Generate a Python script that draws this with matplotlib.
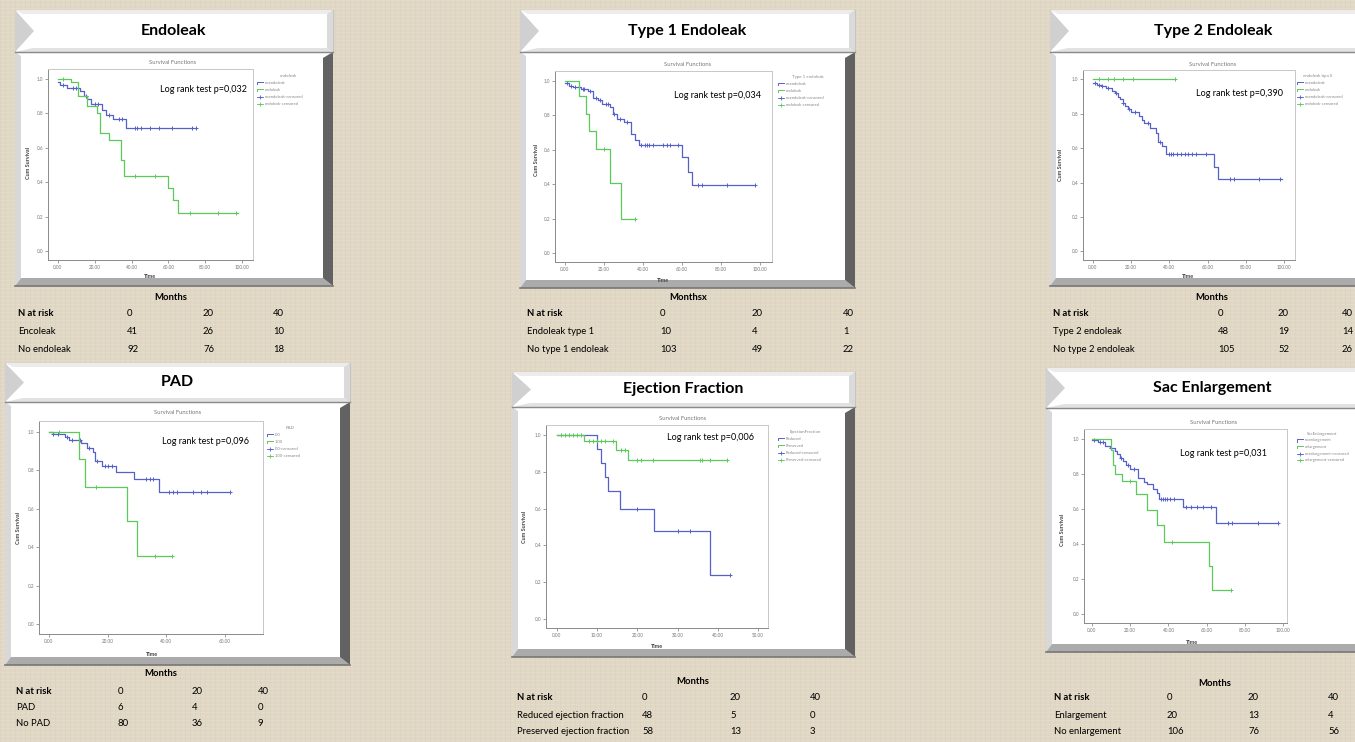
import numpy as np
import matplotlib
matplotlib.use('Agg')
import matplotlib.pyplot as plt
from matplotlib.patches import Rectangle, Polygon

plt.rcParams['font.family'] = ['Lato', 'DejaVu Sans']

W, H = 1355, 742
BLUE = '#5560c8'
GREEN = '#5cc95c'

# ---------------- DATA ----------------
# Endoleak
endo_no_t = [0, 1, 5, 12, 14, 16, 18, 24, 26, 30, 37, 75]
endo_no_s = [0.979, 0.96, 0.946, 0.927, 0.898, 0.879, 0.85, 0.82, 0.79, 0.763, 0.715, 0.715]
endo_no_c = [3, 8, 10, 15, 20, 22, 28, 33, 35, 42, 43, 45, 50, 55, 62, 73, 75]
endo_yes_t = [0, 7, 11, 16, 21, 23, 28, 34, 36, 60, 62.5, 65, 98]
endo_yes_s = [1.0, 0.979, 0.898, 0.84, 0.80, 0.685, 0.647, 0.53, 0.435, 0.368, 0.30, 0.223, 0.223]
endo_yes_c = [3, 42, 53, 72, 87, 97]
endo_rows = ['Encoleak', 'No endoleak']
endo_risk = [['41', '26', '10'], ['92', '76', '18']]

# Type 1 endoleak
t1_no_t = [0, 2, 4, 8, 12, 14.5, 17, 19, 23, 24.5, 26.5, 30, 34, 36, 38, 60, 63, 65, 97.5]
t1_no_s = [0.985, 0.971, 0.961, 0.95, 0.94, 0.90, 0.885, 0.865, 0.846, 0.807, 0.778, 0.76,
           0.69, 0.653, 0.624, 0.557, 0.47, 0.397, 0.397]
t1_no_c = [1, 3, 5, 7, 9, 10, 13, 16, 18, 21, 22, 25, 28, 32, 39, 41, 42, 43, 45, 50, 52, 54,
           58, 68, 70, 83, 97.5]
t1_yes_t = [0, 7.4, 11, 12.5, 16, 23, 28.5, 36]
t1_yes_s = [1.0, 0.908, 0.807, 0.705, 0.605, 0.406, 0.20, 0.20]
t1_yes_c = [20, 36]
t1_rows = ['Endoleak type 1', 'No type 1 endoleak']
t1_risk = [['10', '4', '1'], ['103', '49', '22']]

# Type 2 endoleak
t2_no_t = [0, 2, 4.5, 7, 10, 11.5, 13, 14, 15.5, 17, 18.5, 20, 24, 25.5, 27, 30, 33, 34, 36,
           38, 63.5, 65.6, 99]
t2_no_s = [0.98, 0.97, 0.96, 0.95, 0.935, 0.92, 0.90, 0.885, 0.865, 0.846, 0.83, 0.81, 0.79,
           0.765, 0.745, 0.72, 0.69, 0.638, 0.613, 0.567, 0.493, 0.42, 0.42]
t2_no_c = [1, 3, 5, 8, 12, 16, 19, 22, 29, 35, 40, 41, 42, 44, 46, 48, 50, 52, 54, 59, 72, 74,
           87, 98]
t2_yes_t = [0, 43]
t2_yes_s = [1.0, 1.0]
t2_yes_c = [3, 8, 11, 16, 21, 43]
t2_rows = ['Type 2 endoleak', 'No type 2 endoleak']
t2_risk = [['48', '19', '14'], ['105', '52', '26']]

# PAD
pad_no_t = [0, 1.5, 5.5, 6.7, 11, 13, 15, 15.7, 18, 23, 29, 37.5, 61.7]
pad_no_s = [1.0, 0.988, 0.97, 0.957, 0.94, 0.915, 0.893, 0.85, 0.824, 0.79, 0.755, 0.689, 0.689]
pad_no_c = [1.5, 3, 6, 8, 10.5, 13.5, 16.3, 19, 20, 21.5, 33, 34.5, 35.5, 41, 42.3, 43.5, 49,
            52, 54, 61.7]
pad_yes_t = [0, 10.2, 12.3, 26.5, 30, 42]
pad_yes_s = [1.0, 0.857, 0.715, 0.537, 0.357, 0.357]
pad_yes_c = [3.5, 16, 36, 42]
pad_rows = ['PAD', 'No PAD']
pad_risk = [['6', '4', '0'], ['80', '36', '9']]

# Ejection fraction
ef_red_t = [0, 10, 11, 12, 12.8, 15.8, 24.1, 38, 43]
ef_red_s = [1.0, 0.927, 0.849, 0.772, 0.694, 0.596, 0.479, 0.239, 0.239]
ef_red_c = [20, 30, 33, 43]
ef_pre_t = [0, 6.8, 14.8, 17.7, 42.2]
ef_pre_s = [1.0, 0.967, 0.918, 0.863, 0.863]
ef_pre_c = [1, 2, 3, 4, 5, 6, 8, 9, 10, 11, 12, 14, 16, 17, 20, 21, 24, 35.5, 36, 38, 42.2]
ef_rows = ['Reduced ejection fraction', 'Preserved ejection fraction']
ef_risk = [['48', '5', '0'], ['58', '13', '3']]

# Sac enlargement
sac_no_t = [0, 3, 7, 9.4, 12, 13, 14.7, 16.4, 18, 20, 24, 27, 29, 32, 34, 35, 47.8, 65, 97.5]
sac_no_s = [0.99, 0.98, 0.96, 0.945, 0.93, 0.91, 0.89, 0.87, 0.85, 0.83, 0.777, 0.755, 0.74,
            0.715, 0.69, 0.655, 0.61, 0.52, 0.52]
sac_no_c = [1, 4, 6, 10, 15, 19, 22, 36, 37, 38, 39, 41, 43, 49, 52, 55, 58, 62, 71, 73, 87, 97.5]
sac_yes_t = [0, 9.8, 11, 12, 15.5, 23, 28.6, 34, 37.7, 61, 63, 72.6]
sac_yes_s = [1.0, 0.936, 0.852, 0.80, 0.758, 0.684, 0.594, 0.511, 0.41, 0.275, 0.14, 0.14]
sac_yes_c = [20, 42, 72.6]
sac_rows = ['Enlargement', 'No enlargement']
sac_risk = [['20', '13', '4'], ['106', '76', '56']]

months = ['0', '20', '40']
x_ticks_100 = [0, 20, 40, 60, 80, 100]
x_ticks_60 = [0, 20, 40, 60]
x_ticks_50 = [0, 10, 20, 30, 40, 50]
y_ticks = [0.0, 0.2, 0.4, 0.6, 0.8, 1.0]

# ---------------- FIGURE ----------------
fig = plt.figure(figsize=(W / 100, H / 100), dpi=100)
fig.patch.set_facecolor('#e0d7c4')
bg = fig.add_axes([0, 0, 1, 1])
bg.set_xlim(0, W)
bg.set_ylim(H, 0)
bg.axis('off')

# faint linen texture (regular)
for yy in range(0, H, 4):
    bg.axhline(yy, color='#ece5d6', lw=0.6, alpha=0.45, zorder=0)
for xx in range(0, W, 5):
    bg.axvline(xx, color='#d2c8b3', lw=0.5, alpha=0.3, zorder=0)


def ftext(x, y, s, **kw):
    """Text on top of everything, positioned in reference pixel coordinates."""
    kw.setdefault('zorder', 10)
    return fig.text(x, y, s, transform=bg.transData, **kw)


def draw_box(hdr, body, title, tx=None):
    l, t, r, b = body
    bg.add_patch(Rectangle((l, t), r - l, b - t, facecolor='white', edgecolor='none', zorder=2))
    bg.add_patch(Polygon([(l, t), (l + 6, t + 4), (l + 6, b - 8), (l, b)], closed=True,
                         facecolor='#d8d8d8', edgecolor='none', zorder=3))
    bg.add_patch(Polygon([(l, b), (r, b), (r - 10, b - 8), (l + 6, b - 8)], closed=True,
                         facecolor='#ababab', edgecolor='none', zorder=3))
    bg.add_patch(Polygon([(r, t), (r, b), (r - 10, b - 8), (r - 10, t + 6)], closed=True,
                         facecolor='#626262', edgecolor='none', zorder=3))
    bg.plot([l, r], [b, b], color='#777777', lw=1.2, zorder=3)
    hl, ht, hr, hb = hdr
    bg.add_patch(Rectangle((hl, ht), hr - hl, hb - ht, facecolor='white', edgecolor='#c4c4c4',
                           lw=0.8, zorder=4))
    bg.add_patch(Polygon([(hl, ht), (hr, ht), (hr - 6, ht + 4), (hl + 8, ht + 4)], closed=True,
                         facecolor='#ececec', edgecolor='none', zorder=4))
    bg.add_patch(Polygon([(hl, hb), (hr, hb), (hr - 6, hb - 4), (hl + 18, hb - 4)], closed=True,
                         facecolor='#e2e2e2', edgecolor='none', zorder=4))
    bg.add_patch(Polygon([(hr, ht), (hr, hb), (hr - 6, hb - 4), (hr - 6, ht + 4)], closed=True,
                         facecolor='#dadada', edgecolor='none', zorder=4))
    bg.add_patch(Polygon([(hl, ht), (hl + 19, (ht + hb) / 2), (hl, hb)], closed=True,
                         facecolor='#d0d0d0', edgecolor='none', zorder=4))
    bg.plot([hl, hr], [hb, hb], color='#8a8a8a', lw=1.0, zorder=4)
    cx = (hl + hr) / 2 if tx is None else tx
    bg.text(cx, (ht + hb) / 2, title, ha='center', va='center', fontsize=11.5,
            fontweight='bold', color='black', zorder=5)


def km_axes(box, xlim, xticks, curves):
    l, t, r, b = box
    ax = fig.add_axes([l / W, 1 - b / H, (r - l) / W, (b - t) / H])
    ax.set_facecolor('white')
    for tt, ss, cc, col in curves:
        ax.step(tt, ss, where='post', color=col, lw=0.9)
        idx = np.searchsorted(tt, cc, side='right') - 1
        cy = np.asarray(ss)[idx]
        ax.plot(cc, cy, '+', color=col, ms=3.2, mew=0.7, ls='none')
    ax.set_xlim(*xlim)
    ax.set_ylim(-0.05, 1.055)
    ax.set_xticks(xticks)
    ax.set_xticklabels([f'{v:.2f}' for v in xticks])
    ax.set_yticks(y_ticks)
    ax.set_yticklabels([f'{v:.1f}' for v in y_ticks])
    ax.tick_params(labelsize=3.3, labelcolor='#777777', length=2, width=0.5,
                   color='#777777', pad=1.5)
    for s in ['left', 'bottom']:
        ax.spines[s].set_color('#8a8a8a')
        ax.spines[s].set_linewidth(0.7)
    for s in ['top', 'right']:
        ax.spines[s].set_color('#c8c8c8')
        ax.spines[s].set_linewidth(0.7)
    return ax


def labels(sf, tm, cs):
    ftext(sf[0], sf[1], 'Survival Functions', ha='center', va='center', fontsize=4.2,
          color='#777777')
    ftext(tm[0], tm[1], 'Time', ha='center', va='center', fontsize=4, fontweight='bold',
          color='#444444')
    ftext(cs[0], cs[1], 'Cum Survival', ha='center', va='center', fontsize=4,
          fontweight='bold', color='#444444', rotation=90)


def legend(gx, ty, tcx, dy, title, names):
    ftext(tcx, ty, title, ha='center', va='center', fontsize=3.2, color='#888888')
    cols = [BLUE, GREEN, BLUE, GREEN]
    for i, (nm, col) in enumerate(zip(names, cols)):
        yy = ty + dy * (i + 1)
        if i < 2:
            bg.plot([gx, gx, gx + 6], [yy + 1.2, yy - 1.2, yy - 1.2], color=col, lw=0.7, zorder=6)
        else:
            bg.plot([gx, gx + 6], [yy, yy], color=col, lw=0.6, zorder=6)
            bg.plot([gx + 3], [yy], '+', color=col, ms=2.4, mew=0.6, zorder=6)
        ftext(gx + 8, yy, nm, ha='left', va='center', fontsize=3.0, color='#888888')


def logrank(x, y, p):
    ftext(x, y, f'Log rank test p={p}', ha='right', va='center', fontsize=6.5,
          color='black', zorder=12)


def table(mpos, mlabel, rows_y, lx, cols_x, rows, vals):
    ftext(mpos[0], mpos[1], mlabel, ha='center', va='center', fontsize=6.8,
          fontweight='bold')
    ftext(lx, rows_y[0], 'N at risk', ha='left', va='center', fontsize=6.8,
          fontweight='bold')
    for cx, mv in zip(cols_x, months):
        ftext(cx, rows_y[0], mv, ha='left', va='center', fontsize=6.8)
    for ry, rn, rv in zip(rows_y[1:], rows, vals):
        ftext(lx, ry, rn, ha='left', va='center', fontsize=6.8)
        for cx, v in zip(cols_x, rv):
            ftext(cx, ry, v, ha='left', va='center', fontsize=6.8)


# ---------- Panel: Endoleak ----------
draw_box((15, 10, 333, 52), (15, 52, 333, 286), 'Endoleak')
labels((173, 63), (150, 277), (29, 163))
km_axes((48, 69, 253, 260), (-5.4, 106), x_ticks_100,
        [(endo_no_t, endo_no_s, endo_no_c, BLUE), (endo_yes_t, endo_yes_s, endo_yes_c, GREEN)])
legend(257, 76, 288, 7, 'endoleak',
       ['noendoleak', 'endoleak', 'noendoleak-censored', 'endoleak-censored'])
logrank(247, 89, '0,032')
table((171, 297), 'Months', [313, 332, 349], 18, [127, 203, 273], endo_rows, endo_risk)

# ---------- Panel: Type 1 Endoleak ----------
draw_box((520, 10, 855, 52), (520, 52, 855, 288), 'Type 1 Endoleak')
labels((688, 64), (663, 281), (537, 160))
km_axes((555, 71, 772, 262), (-5.1, 106), x_ticks_100,
        [(t1_no_t, t1_no_s, t1_no_c, BLUE), (t1_yes_t, t1_yes_s, t1_yes_c, GREEN)])
legend(778, 77, 808, 7, 'Type 1 endoleak',
       ['noendoleak', 'endoleak', 'noendoleak-censored', 'endoleak-censored'])
logrank(761, 95, '0,034')
table((688, 297), 'Monthsx', [313, 332, 349], 527, [660, 752, 843], t1_rows, t1_risk)

# ---------- Panel: Type 2 Endoleak ----------
draw_box((1050, 10, 1365, 52), (1050, 52, 1365, 286), 'Type 2 Endoleak', tx=1213)
labels((1213, 64), (1188, 277), (1060, 165))
km_axes((1083, 70, 1295, 260), (-5.2, 105.8), x_ticks_100,
        [(t2_no_t, t2_no_s, t2_no_c, BLUE), (t2_yes_t, t2_yes_s, t2_yes_c, GREEN)])
legend(1297, 76, 1318, 7, 'endoleak tipo II',
       ['noendoleak', 'endoleak', 'noendoleak-censored', 'endoleak-censored'])
logrank(1283, 93, '0,390')
table((1212, 297), 'Months', [313, 331, 349], 1053, [1218, 1278, 1342], t2_rows, t2_risk)

# ---------- Panel: PAD ----------
draw_box((5, 363, 350, 402), (5, 402, 350, 665), 'PAD')
labels((178, 413), (152, 654), (18, 528))
km_axes((39, 421, 263, 634), (-3.4, 73), x_ticks_60,
        [(pad_no_t, pad_no_s, pad_no_c, BLUE), (pad_yes_t, pad_yes_s, pad_yes_c, GREEN)])
legend(267, 428, 290, 7, 'PAD', ['.00', '1.00', '.00-censored', '1.00-censored'])
logrank(249, 441, '0,096')
table((161, 673), 'Months', [691, 708, 724], 16, [118, 192, 258], pad_rows, pad_risk)

# ---------- Panel: Ejection Fraction ----------
draw_box((512, 372, 855, 407), (512, 407, 855, 657), 'Ejection Fraction')
labels((683, 419), (657, 646), (525, 527))
km_axes((546, 425, 768, 628), (-2.7, 52.5), x_ticks_50,
        [(ef_red_t, ef_red_s, ef_red_c, BLUE), (ef_pre_t, ef_pre_s, ef_pre_c, GREEN)])
legend(778, 432, 805, 7, 'EjectionFraction',
       ['Reduced', 'Preserved', 'Reduced-censored', 'Preserved-censored'])
logrank(754, 438, '0,006')
table((693, 681), 'Months', [698, 715, 732], 517, [642, 730, 810], ef_rows, ef_risk)

# ---------- Panel: Sac Enlargement ----------
draw_box((1046, 368, 1365, 408), (1046, 408, 1365, 652), 'Sac Enlargement', tx=1212)
labels((1214, 422), (1192, 642), (1062, 530))
km_axes((1084, 429, 1287, 623), (-4.2, 102), x_ticks_100,
        [(sac_no_t, sac_no_s, sac_no_c, BLUE), (sac_yes_t, sac_yes_s, sac_yes_c, GREEN)])
legend(1297, 434, 1322, 6.5, 'SacEnlargement',
       ['noenlargement', 'enlargement', 'noenlargement-censored', 'enlargement-censored'])
logrank(1267, 453, '0,031')
table((1215, 683), 'Months', [698, 715, 732], 1054, [1167, 1248, 1328], sac_rows, sac_risk)

fig.savefig('out.png', dpi=100, facecolor=fig.get_facecolor())
